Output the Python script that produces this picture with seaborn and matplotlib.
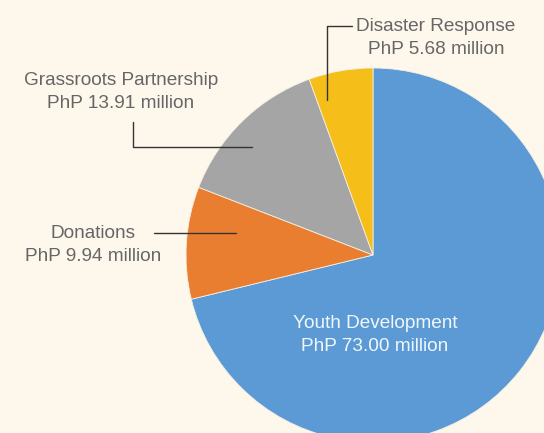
import matplotlib
matplotlib.use("Agg")
import matplotlib.pyplot as plt
import seaborn as sns
from matplotlib.lines import Line2D

# datos del grafico
categorias = ["Youth Development", "Donations", "Grassroots Partnership", "Disaster Response"]
montos = [73.00, 9.94, 13.91, 5.68]
colores = ["#5B9AD4", "#E97E30", "#A5A5A5", "#F5BE18"]

fondo = "#FEF8EC"
sns.set_style("white")
plt.rcParams['font.family'] = ['Liberation Sans', 'DejaVu Sans']

W, H = 544, 433
fig = plt.figure(figsize=(W / 100, H / 100), dpi=100, facecolor=fondo)
ax = fig.add_axes([0, 0, 1, 1])
ax.set_facecolor(fondo)

ax.pie(montos, colors=colores, startangle=90, counterclock=False,
       wedgeprops=dict(edgecolor="#F4EFE4", linewidth=0.6))

# el centro del pie esta en (373, 255) px, radio 187 px
cx, cy, r = 373, 255, 187
ax.set_xlim((0 - cx) / r, (W - cx) / r)
ax.set_ylim((cy - H) / r, (cy - 0) / r)
ax.set_aspect("equal")
ax.axis("off")


def fx(x):
    return x / W


def fy(y):
    return 1 - y / H


gris = "#666666"
fs = 13.7

# etiquetas
etiquetas = [f"{c}\nPhP {m:.2f} million" for c, m in zip(categorias, montos)]
pos_texto = [(375, 335), (93, 245), (121, 92), (436, 38)]
for i, (t, (x, y)) in enumerate(zip(etiquetas, pos_texto)):
    col = "white" if i == 0 else gris
    fig.text(fx(x), fy(y), t, ha="center", va="center", fontsize=fs,
             color=col, linespacing=1.45, alpha=0.92 if i == 0 else 1)

# lineas guia
guias = [
    [(154, 233), (236, 233)],
    [(133, 122), (133, 147), (252, 147)],
    [(352, 26), (327, 26), (327, 100)],
]
for g in guias:
    xs = [fx(p[0]) for p in g]
    ys = [fy(p[1]) for p in g]
    fig.add_artist(Line2D(xs, ys, color="#333333", linewidth=1.0,
                          transform=fig.transFigure))

fig.savefig("out.png", dpi=100, facecolor=fondo)
